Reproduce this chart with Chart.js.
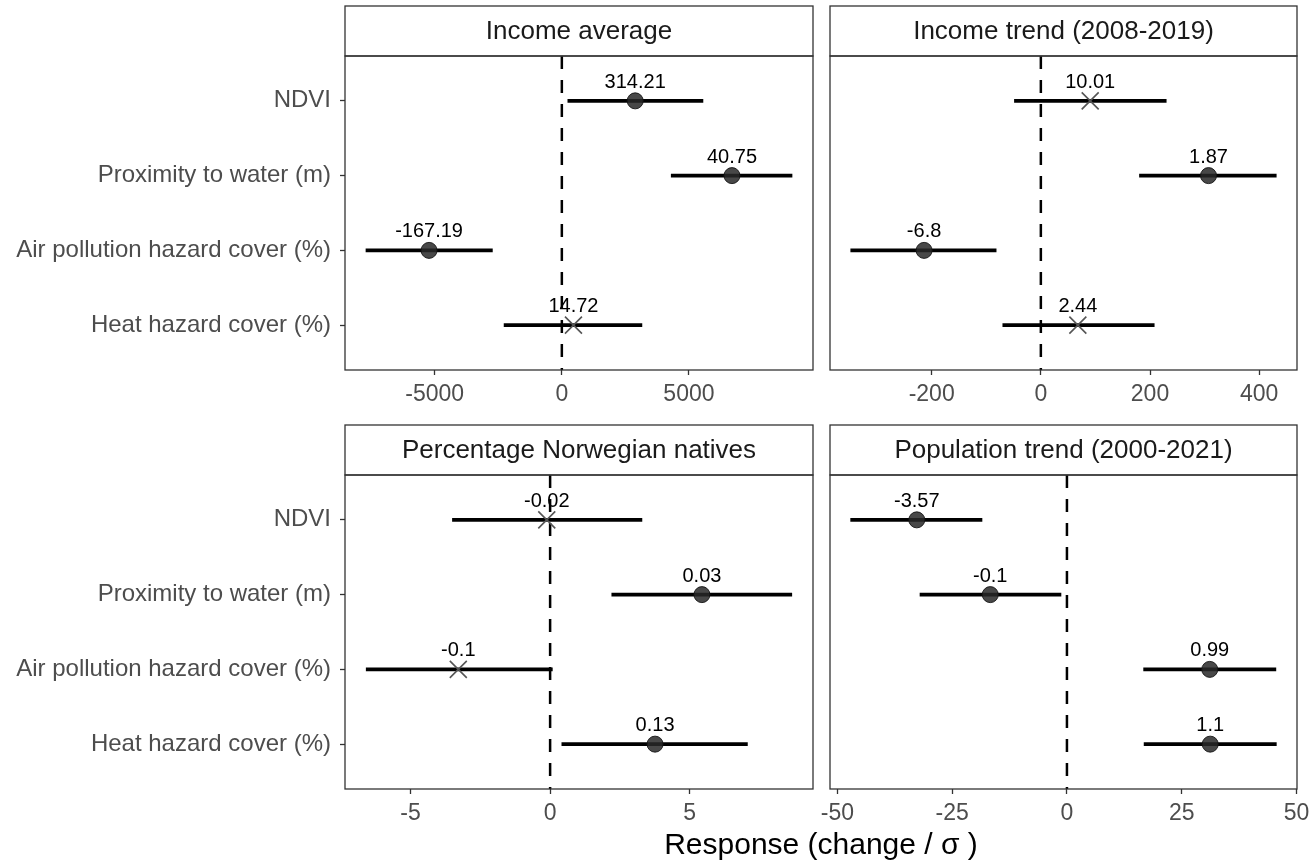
<!DOCTYPE html>
<html>
<head>
<meta charset="utf-8">
<script src="https://cdn.jsdelivr.net/npm/chart.js@4.4.0/dist/chart.umd.min.js"></script>
<style>
  body { margin: 0; background: #fff; width: 1309px; height: 863px; position: relative; overflow: hidden; font-family: "Liberation Sans", Arial, sans-serif; }
  canvas { position: absolute; }
  #xtitle { position: absolute; left: 521px; width: 600px; top: 827px; text-align: center; font-size: 30px; line-height: 34px; color: #000; }
</style>
</head>
<body>
<canvas id="c1" width="815" height="410" style="left:0;top:0"></canvas>
<canvas id="c2" width="494" height="410" style="left:815px;top:0"></canvas>
<canvas id="c3" width="815" height="420" style="left:0;top:410px"></canvas>
<canvas id="c4" width="494" height="420" style="left:815px;top:410px"></canvas>
<div id="xtitle">Response (change / σ )</div>
<script>
// Predictors (rows, top to bottom)
const categories = ["NDVI", "Proximity to water (m)", "Air pollution hazard cover (%)", "Heat hazard cover (%)"];

// Income average
const incomeAvgEst = [2886, 6693, -5224, 457];
const incomeAvgLow = [236, 4303, -7705, -2272];
const incomeAvgHigh = [5551, 9055, -2732, 3150];
const incomeAvgLabels = ["314.21", "40.75", "-167.19", "14.72"];
const incomeAvgSig = [true, true, true, false];
const incomeAvgTicks = [-5000, 0, 5000];

// Income trend (2008-2019)
const incomeTrendEst = [90.4, 307.2, -213.9, 67.8];
const incomeTrendLow = [-48.4, 180.7, -348.3, -69.7];
const incomeTrendHigh = [229.7, 431.3, -81.9, 207.7];
const incomeTrendLabels = ["10.01", "1.87", "-6.8", "2.44"];
const incomeTrendSig = [false, true, true, false];
const incomeTrendTicks = [-200, 0, 200, 400];

// Percentage Norwegian natives
const nativesEst = [-0.12, 5.44, -3.29, 3.76];
const nativesLow = [-3.5, 2.21, -6.59, 0.42];
const nativesHigh = [3.29, 8.66, 0.08, 7.07];
const nativesLabels = ["-0.02", "0.03", "-0.1", "0.13"];
const nativesSig = [false, true, false, true];
const nativesTicks = [-5, 0, 5];

// Population trend (2000-2021)
const popTrendEst = [-32.7, -16.7, 31.1, 31.2];
const popTrendLow = [-47.1, -32.0, 16.7, 16.8];
const popTrendHigh = [-18.5, -1.3, 45.5, 45.6];
const popTrendLabels = ["-3.57", "-0.1", "0.99", "1.1"];
const popTrendSig = [true, true, true, true];
const popTrendTicks = [-50, -25, 0, 25, 50];

const FONT = '"Liberation Sans", Arial, sans-serif';

// strip, panel border and value labels
const facetPlugin = {
  id: "facet",
  afterDatasetsDraw(chart, args, opts) {
    const ctx = chart.ctx;
    const meta = chart.getDatasetMeta(0);
    ctx.save();
    ctx.font = "20px " + FONT;
    ctx.fillStyle = "#000";
    ctx.textAlign = "center";
    ctx.textBaseline = "alphabetic";
    meta.data.forEach((el, i) => ctx.fillText(opts.labels[i], el.x, el.y - 13));
    ctx.restore();
  },
  afterDraw(chart, args, opts) {
    const ctx = chart.ctx;
    const { left, right, top, bottom } = chart.chartArea;
    ctx.save();
    ctx.strokeStyle = "#333";
    ctx.lineWidth = 1.3;
    ctx.fillStyle = "#fff";
    ctx.fillRect(left, top - 50, right - left, 50);
    ctx.strokeRect(left, top - 50, right - left, 50);
    ctx.strokeRect(left, top, right - left, bottom - top);
    ctx.fillStyle = "#1a1a1a";
    ctx.font = "26px " + FONT;
    ctx.textAlign = "center";
    ctx.textBaseline = "middle";
    ctx.fillText(opts.title, (left + right) / 2, top - 24);
    ctx.restore();
  }
};

function makePanel(id, p) {
  const sig = p.sig;
  new Chart(document.getElementById(id), {
    type: "bar",
    data: {
      datasets: [
        {
          type: "scatter",
          data: p.est.map((v, i) => ({ x: v, y: i + 1 })),
          pointStyle: (c) => (sig[c.dataIndex] ? "circle" : "crossRot"),
          pointRadius: (c) => (sig[c.dataIndex] ? 8 : 12),
          pointBackgroundColor: "rgba(40,40,40,0.85)",
          pointBorderColor: (c) => (sig[c.dataIndex] ? "rgba(20,20,20,0.9)" : "#555"),
          pointBorderWidth: (c) => (sig[c.dataIndex] ? 1 : 1.6),
          order: 0
        },
        {
          type: "bar",
          data: p.low.map((v, i) => ({ x: [v, p.high[i]], y: i + 1 })),
          backgroundColor: "#000",
          borderWidth: 0,
          barThickness: 3,
          order: 1
        },
        {
          type: "line",
          data: [{ x: 0, y: 0.4 }, { x: 0, y: 4.6 }],
          borderColor: "#000",
          borderWidth: 2.5,
          borderDash: [13, 11],
          pointRadius: 0,
          order: 2
        }
      ]
    },
    options: {
      indexAxis: "y",
      responsive: false,
      animation: false,
      layout: { autoPadding: false, padding: { left: p.padL, right: p.padR, top: p.padT, bottom: 0 } },
      plugins: {
        legend: { display: false },
        tooltip: { enabled: false },
        facet: { title: p.title, labels: p.labels }
      },
      scales: {
        x: {
          type: "linear",
          min: p.min,
          max: p.max,
          afterBuildTicks: (s) => { s.ticks = p.ticks.map((v) => ({ value: v })); },
          afterFit: (s) => { s.height = p.xh; s.paddingLeft = 0; s.paddingRight = 0; },
          grid: { display: true, drawOnChartArea: false, tickLength: 5, tickColor: "#333", tickWidth: 1.3 },
          border: { display: false },
          ticks: { color: "#4d4d4d", font: { size: 23, family: FONT }, padding: 6, maxRotation: 0, autoSkip: false, callback: (v) => String(v) }
        },
        y: {
          type: "linear",
          display: p.showY,
          reverse: true,
          min: 0.4,
          max: 4.6,
          offset: false,
          afterBuildTicks: (s) => { s.ticks = categories.map((c, i) => ({ value: i + 1 })); },
          afterFit: (s) => { s.width = p.showY ? 345 : 0; s.paddingTop = 0; s.paddingBottom = 0; },
          grid: { display: true, offset: false, drawOnChartArea: false, tickLength: 5, tickColor: "#333", tickWidth: 1.3 },
          border: { display: false },
          ticks: { color: "#4d4d4d", font: { size: 24, family: FONT }, padding: 9, autoSkip: false, callback: (v) => categories[v - 1] }
        }
      }
    },
    plugins: [facetPlugin]
  });
}

makePanel("c1", { title: "Income average", est: incomeAvgEst, low: incomeAvgLow, high: incomeAvgHigh, labels: incomeAvgLabels, sig: incomeAvgSig, ticks: incomeAvgTicks,
  min: -8530, max: 9880, showY: true, padL: 0, padR: 2, padT: 56, xh: 40 });
makePanel("c2", { title: "Income trend (2008-2019)", est: incomeTrendEst, low: incomeTrendLow, high: incomeTrendHigh, labels: incomeTrendLabels, sig: incomeTrendSig, ticks: incomeTrendTicks,
  min: -386.3, max: 469.3, showY: false, padL: 15, padR: 12, padT: 56, xh: 40 });
makePanel("c3", { title: "Percentage Norwegian natives", est: nativesEst, low: nativesLow, high: nativesHigh, labels: nativesLabels, sig: nativesSig, ticks: nativesTicks,
  min: -7.35, max: 9.42, showY: true, padL: 0, padR: 2, padT: 65, xh: 41 });
makePanel("c4", { title: "Population trend (2000-2021)", est: popTrendEst, low: popTrendLow, high: popTrendHigh, labels: popTrendLabels, sig: popTrendSig, ticks: popTrendTicks,
  min: -51.6, max: 50.1, showY: false, padL: 15, padR: 12, padT: 65, xh: 41 });
</script>
</body>
</html>
